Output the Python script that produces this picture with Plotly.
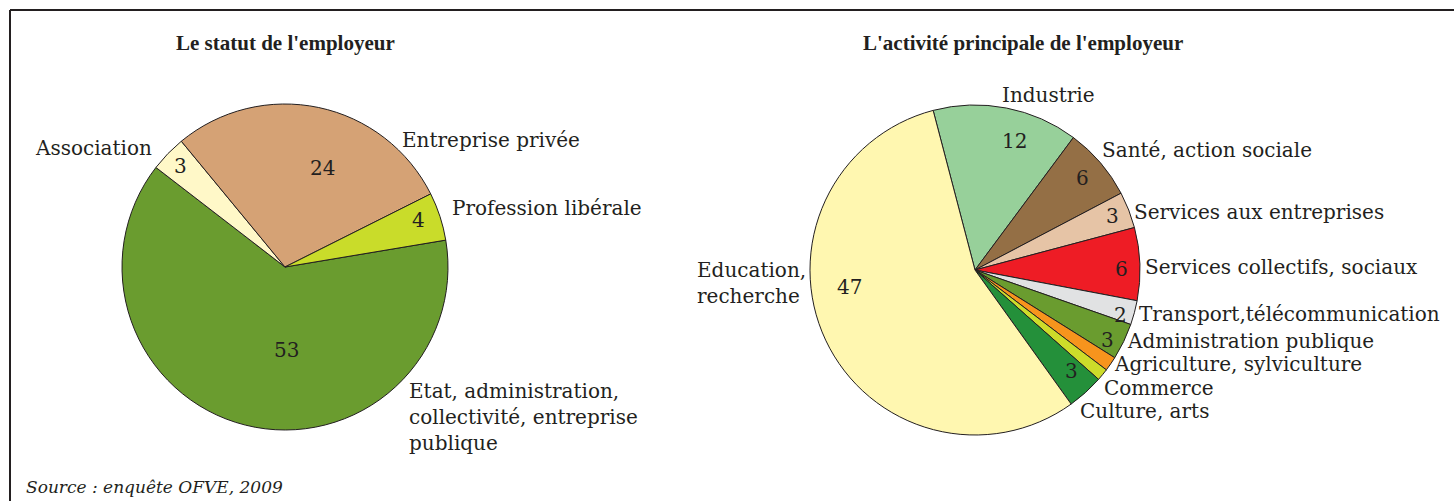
import math
import plotly.graph_objects as go

W, H = 1454, 501

# ---------------- data ----------------
statut_labels = ["Etat, administration, collectivité, entreprise publique",
                 "Association", "Entreprise privée", "Profession libérale"]
statut_values = [53, 3, 24, 4]
statut_text = ["53", "3", "24", "4"]

activite_labels = ["Industrie", "Santé, action sociale", "Services aux entreprises",
                   "Services collectifs, sociaux", "Transport,télécommunication",
                   "Administration publique", "Agriculture, sylviculture",
                   "Commerce", "Culture, arts", "Education, recherche"]
activite_values = [12, 6, 3, 6, 2, 3, 1.2, 1.0, 3, 47]
activite_text = ["12", "6", "3", "6", "2", "3", "", "", "3", "47"]

titles = ["Le statut de l'employeur", "L'activité principale de l'employeur"]
source = "Source : enquête OFVE, 2009"

# ---------------- style ----------------
FONT = "DejaVu Serif"
TITLE_FONT = "Liberation Serif"
INK = "#231f20"

statut_colors = ["#6a9c2f", "#fff8c8", "#d5a275", "#c9dc2a"]
activite_colors = ["#97d09a", "#946f45", "#e6c4a6", "#ee1c25", "#e1e2e3",
                   "#6a9c2f", "#f7941d", "#cddc2a", "#24903a", "#fff7b0"]

# pie geometry (pixels): centre x, centre y, radius, rotation
pies = [
    dict(cx=285, cy=267, r=163, rot=80.5),
    dict(cx=975, cy=270, r=165, rot=-14.7),
]
# number label placement inside slice: (fraction along slice, fraction of radius)
statut_num_pos = [(0.434, 0.51), (0.5, 0.895), (0.587, 0.65), (0.42, 0.87)]
activite_num_pos = [(0.617, 0.82), (0.5, 0.86), (0.5, 0.895), (0.57, 0.885),
                    (0.74, 0.92), (0.66, 0.91), (0.5, 0.9), (0.5, 0.9),
                    (0.37, 0.85), (0.587, 0.77)]

# outside name labels: (x left, y centre, text)
statut_name_pos = [
    (407, 417, "Etat, administration,<br>collectivité, entreprise<br>publique"),
    (33, 148, "Association"),
    (400, 140, "Entreprise privée"),
    (450, 208, "Profession libérale"),
]
activite_name_pos = [
    (1000, 95, "Industrie"),
    (1100, 150, "Santé, action sociale"),
    (1132, 212, "Services aux entreprises"),
    (1143, 267, "Services collectifs, sociaux"),
    (1137, 314, "Transport,télécommunication"),
    (1125, 341, "Administration publique"),
    (1112, 364, "Agriculture, sylviculture"),
    (1102, 388, "Commerce"),
    (1078, 411, "Culture, arts"),
    (695, 283, "Education,<br>recherche"),
]


def px(x):
    return x / W


def py(y):
    return 1 - y / H


fig = go.Figure()
annotations = []

datasets = [
    (statut_labels, statut_values, statut_text, statut_colors, statut_num_pos, statut_name_pos),
    (activite_labels, activite_values, activite_text, activite_colors, activite_num_pos, activite_name_pos),
]

for geo, (labels, values, texts, colors, numpos, namepos) in zip(pies, datasets):
    cx, cy, r, rot = geo["cx"], geo["cy"], geo["r"], geo["rot"]
    fig.add_trace(go.Pie(
        labels=labels, values=values, sort=False, direction="clockwise",
        rotation=rot, textinfo="none", showlegend=False,
        marker=dict(colors=colors, line=dict(color=INK, width=1)),
        domain=dict(x=[px(cx - r), px(cx + r)], y=[py(cy + r), py(cy - r)]),
        hoverinfo="label+value",
    ))
    total = sum(values)
    cum = 0.0
    for v, t, (af, rf) in zip(values, texts, numpos):
        theta = math.radians(rot + (cum + af * v) * 360.0 / total)
        cum += v
        if not t:
            continue
        x = cx + rf * r * math.sin(theta)
        y = cy - rf * r * math.cos(theta)
        annotations.append(dict(x=px(x), y=py(y), xref="paper", yref="paper",
                                text=t, showarrow=False, xanchor="center", yanchor="middle",
                                font=dict(family=FONT, size=20, color=INK)))
    for (x, y, t) in namepos:
        annotations.append(dict(x=px(x), y=py(y), xref="paper", yref="paper",
                                text=t, showarrow=False, xanchor="left", yanchor="middle",
                                align="left",
                                font=dict(family=FONT, size=20, color=INK)))

# titles
for xc, t in zip([285, 1023], titles):
    annotations.append(dict(x=px(xc), y=py(43), xref="paper", yref="paper",
                            text="<b>" + t + "</b>", showarrow=False,
                            xanchor="center", yanchor="middle",
                            font=dict(family=TITLE_FONT, size=21, color=INK)))
annotations.append(dict(x=px(24), y=py(487), xref="paper", yref="paper",
                        text="<i>" + source + "</i>", showarrow=False,
                        xanchor="left", yanchor="middle",
                        font=dict(family=FONT, size=17, color=INK)))

shapes = [
    dict(type="line", xref="paper", yref="paper", x0=px(10), x1=1, y0=py(10), y1=py(10),
         line=dict(color=INK, width=2)),
    dict(type="line", xref="paper", yref="paper", x0=px(10), x1=px(10), y0=py(10), y1=0,
         line=dict(color=INK, width=2)),
]

fig.update_layout(
    width=W, height=H, autosize=False,
    margin=dict(l=0, r=0, t=0, b=0),
    paper_bgcolor="white", plot_bgcolor="white",
    annotations=annotations, shapes=shapes,
)

fig.write_html("out.html", config={"displayModeBar": False},
               post_script="document.body.style.margin='0';document.body.style.overflow='hidden';")
